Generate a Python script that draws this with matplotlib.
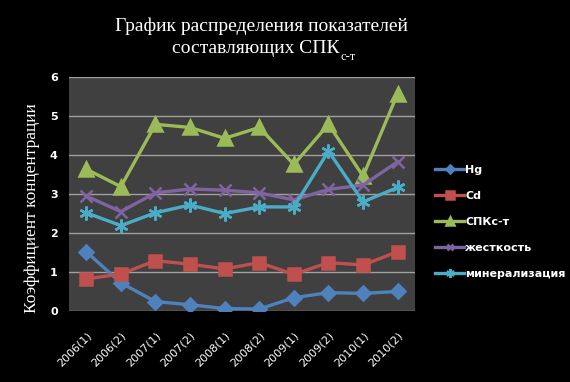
import numpy as np
import matplotlib
matplotlib.use("Agg")
import matplotlib.pyplot as plt

periods = ['2006(1)', '2006(2)', '2007(1)', '2007(2)', '2008(1)',
           '2008(2)', '2009(1)', '2009(2)', '2010(1)', '2010(2)']
hg = [1.52, 0.72, 0.24, 0.16, 0.06, 0.05, 0.34, 0.47, 0.45, 0.50]
cd = [0.82, 0.95, 1.29, 1.20, 1.08, 1.24, 0.94, 1.24, 1.18, 1.52]
spk = [3.64, 3.19, 4.79, 4.71, 4.43, 4.71, 3.76, 4.79, 3.46, 5.58]
zhest = [2.95, 2.55, 3.03, 3.13, 3.10, 3.03, 2.85, 3.12, 3.23, 3.83]
miner = [2.52, 2.19, 2.52, 2.72, 2.50, 2.67, 2.67, 4.10, 2.80, 3.17]

names = ['Hg', 'Cd', 'СПКс-т', 'жесткость', 'минерализация']
series = [hg, cd, spk, zhest, miner]
colors = ['#4F81BD', '#C0504D', '#9BBB59', '#8064A2', '#4BACC6']
markers = ['D', 's', '^', 'x', (6, 2, 0)]
msizes = [7, 9, 10, 8, 10]

fig = plt.figure(figsize=(5.7, 3.82), dpi=100, facecolor='black')
ax = fig.add_axes([0.121, 0.186, 0.607, 0.612])
ax.set_facecolor('#404040')

x = np.arange(len(periods))
for s, n, c, m, ms in zip(series, names, colors, markers, msizes):
    ax.plot(x, s, color=c, lw=2.4, marker=m, ms=ms, mfc=c, mec=c, mew=1.8, label=n)

ax.set_xlim(-0.5, 9.5)
ax.set_ylim(0, 6)
ax.set_yticks(range(7))
ax.set_xticks(x)
ax.set_xticklabels(periods, rotation=45, ha='right', rotation_mode='anchor')
ax.grid(axis='y', color='#a0a0a0', lw=1)
ax.set_axisbelow(True)
for sp in ax.spines.values():
    sp.set_visible(False)
ax.tick_params(colors='white', length=0, labelsize=8)
ax.tick_params(axis='y', pad=8)
ax.tick_params(axis='x', pad=14)
for lb in ax.get_yticklabels():
    lb.set_fontweight('bold')

# заголовок
fig.text(0.458, 0.932, 'График распределения показателей', ha='center', va='center',
         color='white', fontsize=14, family='Liberation Serif')
t2 = fig.text(0.302, 0.872, 'составляющих СПК', ha='left', va='center',
              color='white', fontsize=14, family='Liberation Serif')
fig.canvas.draw()
bb = t2.get_window_extent().transformed(fig.transFigure.inverted())
fig.text(bb.x1 + 0.002, 0.852, 'с-т', ha='left', va='center',
         color='white', fontsize=9, family='Liberation Serif')

fig.text(0.056, 0.455, 'Коэффициент концентрации', rotation=90, ha='center', va='center',
         color='white', fontsize=12.5, family='Liberation Serif')

leg = ax.legend(loc='center left', bbox_to_anchor=(1.03, 0.38), frameon=False,
                labelcolor='white', fontsize=8, handlelength=2.6, labelspacing=1.45,
                handletextpad=0.1, markerscale=0.6)
for t in leg.get_texts():
    t.set_fontweight('bold')

fig.savefig('out.png', dpi=100, facecolor='black')
